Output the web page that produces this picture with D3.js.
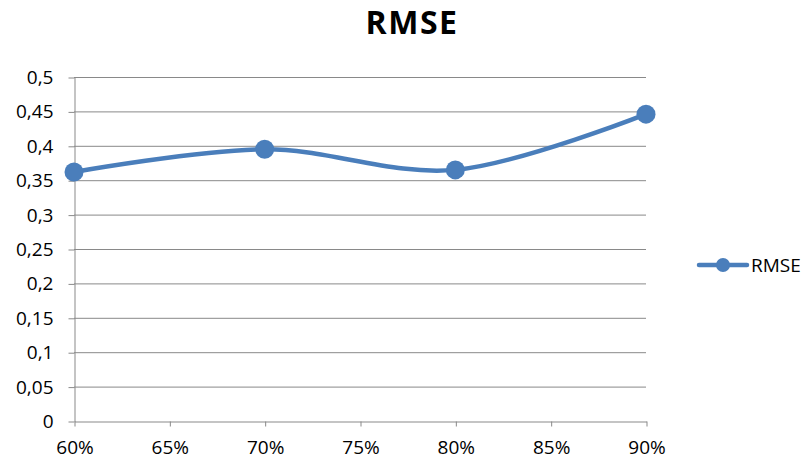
<!DOCTYPE html>
<html>
<head>
<meta charset="utf-8">
<script src="https://cdn.jsdelivr.net/npm/d3@7"></script>
<style>
  body { margin: 0; background: #fff; }
  text { font-family: "Open Sans", "Liberation Sans", sans-serif; fill: #000; }
</style>
</head>
<body>
<svg id="chart" width="806" height="460"></svg>
<script>
// data
const categories = [0.60, 0.70, 0.80, 0.90];
const rmseValues = [0.362, 0.395, 0.365, 0.446];
const xTicks = [0.60, 0.65, 0.70, 0.75, 0.80, 0.85, 0.90];
const yTicks = [0, 0.05, 0.1, 0.15, 0.2, 0.25, 0.3, 0.35, 0.4, 0.45, 0.5];
const seriesName = "RMSE";
const chartTitle = "RMSE";

const svg = d3.select("#chart");
const blue = "#4a7ebb";
const gridColor = "#898989";

// plot area
const plotLeft = 74, plotRight = 646, plotTop = 77, plotBottom = 421;

const x = d3.scaleLinear().domain([0.6, 0.9]).range([plotLeft, plotRight]);
const y = d3.scaleLinear().domain([0, 0.5]).range([plotBottom, plotTop]);

const fmtY = d => String(+d.toFixed(2)).replace(".", ",");
const fmtX = d => Math.round(d * 100) + "%";

// gridlines
svg.append("g")
  .selectAll("line")
  .data(yTicks.filter(d => d > 0))
  .enter()
  .append("line")
  .attr("x1", plotLeft)
  .attr("x2", plotRight)
  .attr("y1", d => y(d) + 0.5)
  .attr("y2", d => y(d) + 0.5)
  .attr("stroke", gridColor)
  .attr("stroke-width", 1);

// y axis
const yAxis = d3.axisLeft(y).tickValues(yTicks).tickFormat(fmtY).tickSize(6).tickSizeOuter(0).tickPadding(15);
const yAxisG = svg.append("g").attr("transform", `translate(${plotLeft + 0.5},0.5)`).call(yAxis);
yAxisG.select(".domain").attr("stroke", gridColor);
yAxisG.selectAll(".tick line").attr("stroke", gridColor);
yAxisG.selectAll(".tick text").attr("font-size", 19).attr("fill", "#000")
  .style("font-family", '"Open Sans", sans-serif');

// x axis
const xAxis = d3.axisBottom(x).tickValues(xTicks).tickFormat(fmtX).tickSize(5).tickSizeOuter(0).tickPadding(14);
const xAxisG = svg.append("g").attr("transform", `translate(0.5,${plotBottom + 0.5})`).call(xAxis);
xAxisG.select(".domain").attr("stroke", gridColor);
xAxisG.selectAll(".tick line").attr("stroke", gridColor);
xAxisG.selectAll(".tick text").attr("font-size", 19).attr("fill", "#000")
  .style("font-family", '"Open Sans", sans-serif');

// smoothed line
const points = categories.map((c, i) => ({x: c, v: rmseValues[i]}));
const line = d3.line()
  .x(d => x(d.x))
  .y(d => y(d.v))
  .curve(d3.curveCardinal.tension(0));

svg.append("path")
  .datum(points)
  .attr("d", line)
  .attr("fill", "none")
  .attr("stroke", blue)
  .attr("stroke-width", 4.5)
  .attr("stroke-linecap", "round");

svg.append("g")
  .selectAll("circle")
  .data(points)
  .enter()
  .append("circle")
  .attr("cx", d => x(d.x))
  .attr("cy", d => y(d.v))
  .attr("r", 9.5)
  .attr("fill", blue);

// title
svg.append("text")
  .attr("x", 412)
  .attr("y", 34)
  .attr("text-anchor", "middle")
  .attr("font-size", 32)
  .attr("font-weight", "bold")
  .attr("letter-spacing", 1.5)
  .text(chartTitle);

// legend
const lg = svg.append("g").attr("transform", "translate(699,265)");
lg.append("line")
  .attr("x1", 0).attr("x2", 48)
  .attr("y1", 0).attr("y2", 0)
  .attr("stroke", blue)
  .attr("stroke-width", 4.5)
  .attr("stroke-linecap", "round");
lg.append("circle").attr("cx", 24).attr("cy", 0).attr("r", 7).attr("fill", blue);
lg.append("text")
  .attr("x", 52)
  .attr("y", 7)
  .attr("font-size", 19)
  .text(seriesName);
</script>
</body>
</html>
